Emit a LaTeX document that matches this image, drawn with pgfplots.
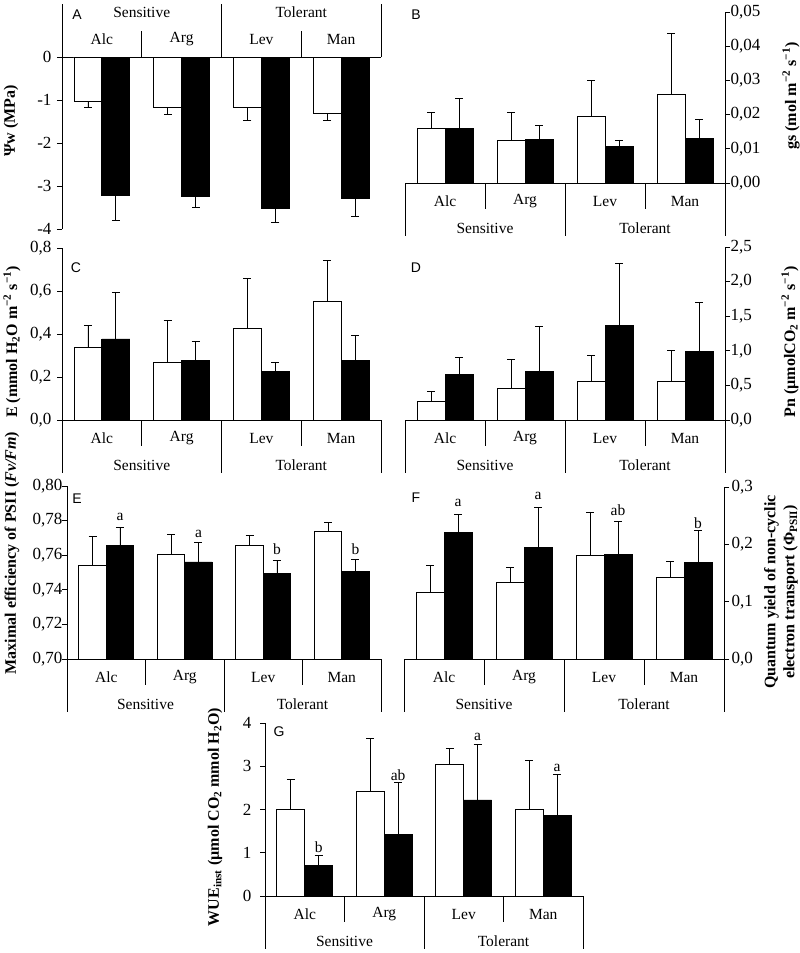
\documentclass[border=0pt]{standalone}
\usepackage{fontspec}
\setmainfont{Liberation Serif}
\newfontfamily\arialf{Liberation Sans}
\usepackage{pgfplots}
\pgfplotsset{compat=1.18}
\usepackage{pgfplotstable}

\pgfplotstableread{
x w we b be
0 -1.03 0.14 -3.23 0.56
1 -1.18 0.16 -3.25 0.25
2 -1.18 0.29 -3.53 0.32
3 -1.32 0.16 -3.30 0.40
}\dataA
\pgfplotstableread{
x w we b be
0 0.0160 0.0047 0.0160 0.0088
1 0.0124 0.0082 0.0127 0.0040
2 0.0194 0.0105 0.0108 0.0018
3 0.0259 0.0178 0.0130 0.0057
}\dataB
\pgfplotstableread{
x w we b be
0 0.339 0.099 0.377 0.218
1 0.270 0.191 0.275 0.090
2 0.427 0.233 0.227 0.039
3 0.551 0.190 0.275 0.120
}\dataC
\pgfplotstableread{
x w we b be
0 0.265 0.145 0.656 0.244
1 0.458 0.420 0.700 0.650
2 0.554 0.376 1.365 0.895
3 0.554 0.446 0.990 0.710
}\dataD
\pgfplotstableread{
x w we b be
0 0.7538 0.0172 0.7654 0.0104
1 0.7602 0.0118 0.7561 0.0112
2 0.7658 0.0054 0.7496 0.0075
3 0.7735 0.0055 0.7507 0.0070
}\dataE
\pgfplotstableread{
x w we b be
0 0.1164 0.0466 0.2200 0.0325
1 0.1330 0.0260 0.1946 0.0690
2 0.1810 0.0755 0.1830 0.0570
3 0.1424 0.0276 0.1685 0.0550
}\dataF
\pgfplotstableread{
x w we b be
0 1.99 0.71 0.696 0.248
1 2.41 1.24 1.420 1.200
2 3.05 0.37 2.220 1.280
3 2.00 1.13 1.857 0.963
}\dataG

\pgfplotsset{
  panel/.style={scale only axis, anchor=south west,
    xmin=-0.5, xmax=3.5, xtick=\empty, ybar, bar width=0.35,
    scaled y ticks=false,
    clip mode=individual, tick align=outside, major tick length=5pt,
    axis line style={line width=0.9pt, black},
    ytick style={line width=0.9pt, black},
    tick label style={font=\fontsize{17}{19}\selectfont}},
  wbar/.style={fill=white, draw=black, line width=0.9pt, bar shift=-0.175},
  bbar/.style={fill=black, draw=black, line width=0.9pt, bar shift=0.175},
  errp/.style={error bars/y dir=#1, error bars/y explicit,
    error bars/error bar style={line width=0.8pt, black},
    error bars/error mark options={line width=0.8pt, black, mark size=4pt, rotate=90}},
  errp/.default=plus
}
\newcommand\catfont{\fontsize{15.5}{18}\selectfont}
\newcommand\labfont{\bfseries\fontsize{16}{19}\selectfont}
\newcommand\catbox[1]{%
  \draw[line width=0.9pt] (rel axis cs:0,#1) -- ++(0pt,\sgn 53pt);
  \draw[line width=0.9pt] (rel axis cs:0.5,#1) -- ++(0pt,\sgn 53pt);
  \draw[line width=0.9pt] (rel axis cs:1,#1) -- ++(0pt,\sgn 53pt);
  \draw[line width=0.9pt] (rel axis cs:0.25,#1) -- ++(0pt,\sgn 26pt);
  \draw[line width=0.9pt] (rel axis cs:0.75,#1) -- ++(0pt,\sgn 26pt);
  \node[font=\catfont, yshift=\sgn 18pt] at (rel axis cs:0.125,#1) {Alc};
  \node[font=\catfont, yshift=\sgn 18pt] at (rel axis cs:0.375,#1) {Arg};
  \node[font=\catfont, yshift=\sgn 18pt] at (rel axis cs:0.625,#1) {Lev};
  \node[font=\catfont, yshift=\sgn 18pt] at (rel axis cs:0.875,#1) {Man};
  \node[font=\catfont, yshift=\sgn 45pt] at (rel axis cs:0.25,#1) {Sensitive};
  \node[font=\catfont, yshift=\sgn 45pt] at (rel axis cs:0.75,#1) {Tolerant};
}
\def\sgn{-}

\begin{document}
\begin{tikzpicture}

% ---------- A ----------
\begin{axis}[panel, at={(62pt,-229pt)}, width=319pt, height=172pt,
  ymin=-4, ymax=0, axis x line*=top, axis y line*=left,
  ytick={-4,-3,-2,-1,0}, yticklabels={-4,-3,-2,-1,0},
  yticklabel style={xshift=-2pt}]
\addplot[wbar, errp=minus] table[x=x, y=w, y error=we] {\dataA};
\addplot[bbar, errp=minus] table[x=x, y=b, y error=be] {\dataA};
\def\sgn{}
\catbox{1}
\end{axis}

% ---------- B ----------
\begin{axis}[panel, at={(405pt,-183pt)}, width=320pt, height=171pt,
  ymin=0, ymax=0.05, axis x line*=bottom, axis y line*=right,
  ytick={0,0.01,0.02,0.03,0.04,0.05},
  yticklabels={{0,00},{0,01},{0,02},{0,03},{0,04},{0,05}},
  yticklabel style={xshift=-3pt}]
\addplot[wbar, errp] table[x=x, y=w, y error=we] {\dataB};
\addplot[bbar, errp] table[x=x, y=b, y error=be] {\dataB};
\catbox{0}
\end{axis}

% ---------- C ----------
\begin{axis}[panel, at={(62pt,-420pt)}, width=319pt, height=172pt,
  ymin=0, ymax=0.8, axis x line*=bottom, axis y line*=left,
  ytick={0,0.2,0.4,0.6,0.8},
  yticklabels={{0,0},{0,2},{0,4},{0,6},{0,8}},
  yticklabel style={xshift=-2pt}]
\addplot[wbar, errp] table[x=x, y=w, y error=we] {\dataC};
\addplot[bbar, errp] table[x=x, y=b, y error=be] {\dataC};
\catbox{0}
\end{axis}

% ---------- D ----------
\begin{axis}[panel, at={(405pt,-420pt)}, width=320pt, height=173pt,
  ymin=0, ymax=2.5, axis x line*=bottom, axis y line*=right,
  ytick={0,0.5,1,1.5,2,2.5},
  yticklabels={{0,0},{0,5},{1,0},{1,5},{2,0},{2,5}},
  yticklabel style={xshift=-3pt}]
\addplot[wbar, errp] table[x=x, y=w, y error=we] {\dataD};
\addplot[bbar, errp] table[x=x, y=b, y error=be] {\dataD};
\catbox{0}
\end{axis}

% ---------- E ----------
\begin{axis}[panel, at={(67pt,-659pt)}, width=314pt, height=173pt,
  ymin=0.70, ymax=0.80, axis x line*=bottom, axis y line*=left,
  ytick={0.70,0.72,0.74,0.76,0.78,0.80},
  yticklabels={{0,70},{0,72},{0,74},{0,76},{0,78},{0,80}},
  yticklabel style={xshift=4pt}]
\addplot[wbar, errp] table[x=x, y=w, y error=we] {\dataE};
\addplot[bbar, errp] table[x=x, y=b, y error=be] {\dataE};
\node[font=\catfont] at (axis cs:0.175,0.7823) {a};
\node[font=\catfont] at (axis cs:1.175,0.7723) {a};
\node[font=\catfont] at (axis cs:2.175,0.7634) {b};
\node[font=\catfont] at (axis cs:3.175,0.7634) {b};
\catbox{0}
\end{axis}

% ---------- F ----------
\begin{axis}[panel, at={(404pt,-659pt)}, width=320pt, height=172pt,
  ymin=0, ymax=0.3, axis x line*=bottom, axis y line*=right,
  ytick={0,0.1,0.2,0.3},
  yticklabels={{0,0},{0,1},{0,2},{0,3}},
  yticklabel style={xshift=-1pt}]
\addplot[wbar, errp] table[x=x, y=w, y error=we] {\dataF};
\addplot[bbar, errp] table[x=x, y=b, y error=be] {\dataF};
\node[font=\catfont] at (axis cs:0.175,0.273) {a};
\node[font=\catfont] at (axis cs:1.175,0.284) {a};
\node[font=\catfont] at (axis cs:2.175,0.259) {ab};
\node[font=\catfont] at (axis cs:3.175,0.237) {b};
\catbox{0}
\end{axis}

% ---------- G ----------
\begin{axis}[panel, at={(265pt,-896pt)}, width=318pt, height=173pt,
  ymin=0, ymax=4, axis x line*=bottom, axis y line*=left,
  ytick={0,1,2,3,4}, yticklabels={0,1,2,3,4},
  yticklabel style={xshift=-5pt}]
\addplot[wbar, errp] table[x=x, y=w, y error=we] {\dataG};
\addplot[bbar, errp] table[x=x, y=b, y error=be] {\dataG};
\node[font=\catfont] at (axis cs:0.175,1.14) {b};
\node[font=\catfont] at (axis cs:1.175,2.80) {ab};
\node[font=\catfont] at (axis cs:2.175,3.67) {a};
\node[font=\catfont] at (axis cs:3.175,2.96) {a};
\catbox{0}
\end{axis}

% panel letters
\begin{scope}[every node/.style={font=\arialf\fontsize{14}{16}\selectfont}]
\node at (77pt,-15pt) {A};
\node at (416pt,-15pt) {B};
\node at (76pt,-268pt) {C};
\node at (416pt,-268pt) {D};
\node at (77pt,-499pt) {E};
\node at (416pt,-498pt) {F};
\node at (279pt,-732pt) {G};
\end{scope}

% y labels
\begin{scope}[every node/.style={font=\labfont, rotate=90}]
\node at (11pt,-121pt) {Ψw (MPa)};
\node at (12pt,-342pt) {E (mmol H\textsubscript{2}O m\textsuperscript{−2} s\textsuperscript{−1})};
\node at (12pt,-553pt) {Maximal efficiency of PSII (\textit{Fv/Fm})};
\node at (215pt,-817pt) {WUE\textsubscript{inst} (µmol CO\textsubscript{2} mmol H\textsubscript{2}O)};
\node at (791pt,-96pt) {gs (mol m\textsuperscript{−2} s\textsuperscript{−1})};
\node at (790pt,-342pt) {Pn (µmolCO\textsubscript{2} m\textsuperscript{−2} s\textsuperscript{−1})};
\node[align=center, inner sep=0pt] at (781pt,-592pt) {Quantum yield of non-cyclic\\electron transport (Φ\textsubscript{PSII})};
\end{scope}

\pgfresetboundingbox
\useasboundingbox (0pt,0pt) rectangle (800pt,-953pt);
\end{tikzpicture}
\end{document}
